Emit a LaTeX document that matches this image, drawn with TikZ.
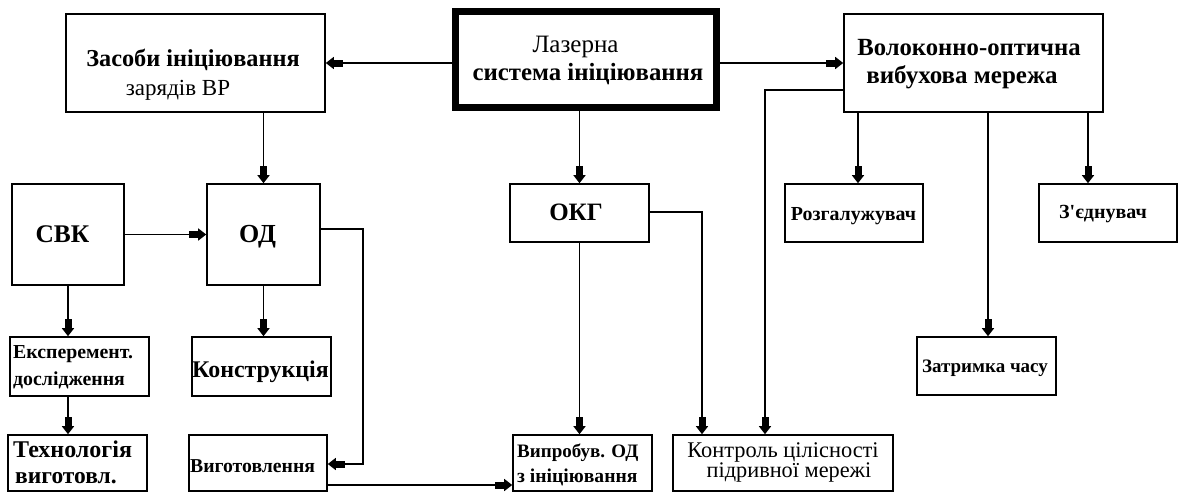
\documentclass[tikz,border=0pt]{standalone}
\usepackage{fontspec}
\setmainfont{Liberation Serif}
\usetikzlibrary{arrows.meta,calc}
\newcommand\myfs[1]{\fontsize{#1}{#1}\selectfont}
\begin{document}
\begin{tikzpicture}[x=1pt,y=-1pt,
  box/.style={draw, line width=1.6pt, inner sep=0pt, rectangle},
  thickbox/.style={draw, line width=7pt, inner sep=0pt, rectangle},
  lbl/.style={inner sep=0pt, anchor=base},
  lbll/.style={inner sep=0pt, anchor=base west},
  arr/.style={draw, line width=1.6pt, -{Rectangle[length=9pt,width=7pt]Triangle[length=8pt,width=12pt]}}]
\useasboundingbox (0,0) rectangle (1179,493);
\fill[white] (0,0) rectangle (1179,493);
% boxes
\node[box, minimum width=259pt, minimum height=98pt] (zas) at (195.5,63) {};
\node[thickbox, minimum width=261pt, minimum height=96pt] (laz) at (586,59.5) {};
\node[box, minimum width=259pt, minimum height=98pt] (vol) at (973.5,63) {};
\node[box, minimum width=112pt, minimum height=101pt] (svk) at (68,234.5) {};
\node[box, minimum width=113pt, minimum height=101pt] (od) at (263.5,234.5) {};
\node[box, minimum width=139pt, minimum height=58pt] (okg) at (579.5,213) {};
\node[box, minimum width=138pt, minimum height=58pt] (roz) at (854,213) {};
\node[box, minimum width=138pt, minimum height=58pt] (zed) at (1108,213) {};
\node[box, minimum width=139pt, minimum height=59pt] (eks) at (79.5,366.5) {};
\node[box, minimum width=139pt, minimum height=59pt] (kon) at (261.5,366.5) {};
\node[box, minimum width=139pt, minimum height=58pt] (zat) at (986.5,366) {};
\node[box, minimum width=139pt, minimum height=56pt] (tech) at (77.5,463) {};
\node[box, minimum width=138pt, minimum height=56pt] (vyg) at (258,463) {};
\node[box, minimum width=139pt, minimum height=56pt] (vyp) at (582.5,463) {};
\node[box, minimum width=220pt, minimum height=56pt] (kont) at (783,463) {};
% texts
\node[lbl] (zasA) at (193,66) {\myfs{24.3}\bfseries Засоби ініціювання};
\node[lbl] (zasB) at (178,95) {\myfs{23}зарядів ВР};
\node[lbl] (lazA) at (575.5,52) {\myfs{25}Лазерна};
\node[lbl] (lazB) at (588,80) {\myfs{24.8}\bfseries система ініціювання};
\node[lbl] (volA) at (969,55) {\myfs{24.7}\bfseries Волоконно-оптична};
\node[lbl] (volB) at (962,83) {\myfs{25}\bfseries вибухова мережа};
\node[lbl] (svkT) at (62.5,242) {\myfs{25.4}\bfseries СВК};
\node[lbl] (odT) at (257.5,242) {\myfs{26}\bfseries ОД};
\node[lbl] (okgT) at (576,220) {\myfs{25}\bfseries ОКГ};
\node[lbl] (rozT) at (853.5,220) {\myfs{19.9}\bfseries Розгалужувач};
\node[lbl] (zedT) at (1103,218) {\myfs{20}\bfseries З\textquotesingle єднувач};
\node[lbl] (zatT) at (985,372) {\myfs{19}\bfseries Затримка часу};
\node[lbll] (eksA) at (13,358) {\myfs{19.8}\bfseries Експеремент.};
\node[lbll] (eksB) at (13,385) {\myfs{19.8}\bfseries дослідження};
\node[lbl] (konT) at (260.5,377) {\myfs{23.9}\bfseries Конструкція};
\node[lbll] (techA) at (13,457) {\myfs{24}\bfseries Технологія};
\node[lbll] (techB) at (15,483) {\myfs{23.5}\bfseries виготовл.};
\node[lbll] (vygT) at (190,472) {\myfs{19.7}\bfseries Виготовлення};
\node[lbll] (vypA) at (517,457) {\myfs{19}\bfseries Випробув. ОД};
\node[lbll] (vypB) at (517,482) {\myfs{19.6}\bfseries з ініціювання};
\node[lbl] (kontA) at (783,457) {\myfs{22.4}Контроль цілісності};
\node[lbl] (kontB) at (789,477) {\myfs{22.3}підривної мережі};
% helper coordinates
\coordinate (kv) at (765,90);
\coordinate (c1) at (363,229);
\coordinate (c2) at (363,464);
\coordinate (c3) at (0,485);
\coordinate (c4) at (702,212);
\coordinate (r1) at (858,0);
\coordinate (r2) at (988,0);
\coordinate (r3) at (1088,0);
% connectors
\draw[arr] (laz.west |- zas.east) -- (zas.east);
\draw[arr] (laz.east |- vol.west) -- (vol.west);
\draw[arr] (vol.west |- kv) -- (kv) -- (kv |- kont.north);
\draw[arr] (laz.south -| okg.north) -- (okg.north);
\draw[arr] (zas.south -| od.north) -- (od.north);
\draw[arr] (svk.east) -- (od.west);
\draw[arr] (od.south) -- (od.south |- kon.north);
\draw[arr] (svk.south) -- (svk.south |- eks.north);
\draw[arr] (eks.south -| svk.south) -- (svk.south |- tech.north);
\draw[arr] (od.east |- c1) -- (c1) -- (c2) -- (vyg.east |- c2);
\draw[arr] (vyg.east |- c3) -- (vyp.west |- c3);
\draw[arr] (okg.south) -- (okg.south |- vyp.north);
\draw[arr] (okg.east |- c4) -- (c4) -- (c4 |- kont.north);
\draw[arr] (vol.south -| r1) -- (r1 |- roz.north);
\draw[arr] (vol.south -| r2) -- (r2 |- zat.north);
\draw[arr] (vol.south -| r3) -- (r3 |- zed.north);
\end{tikzpicture}
\end{document}
